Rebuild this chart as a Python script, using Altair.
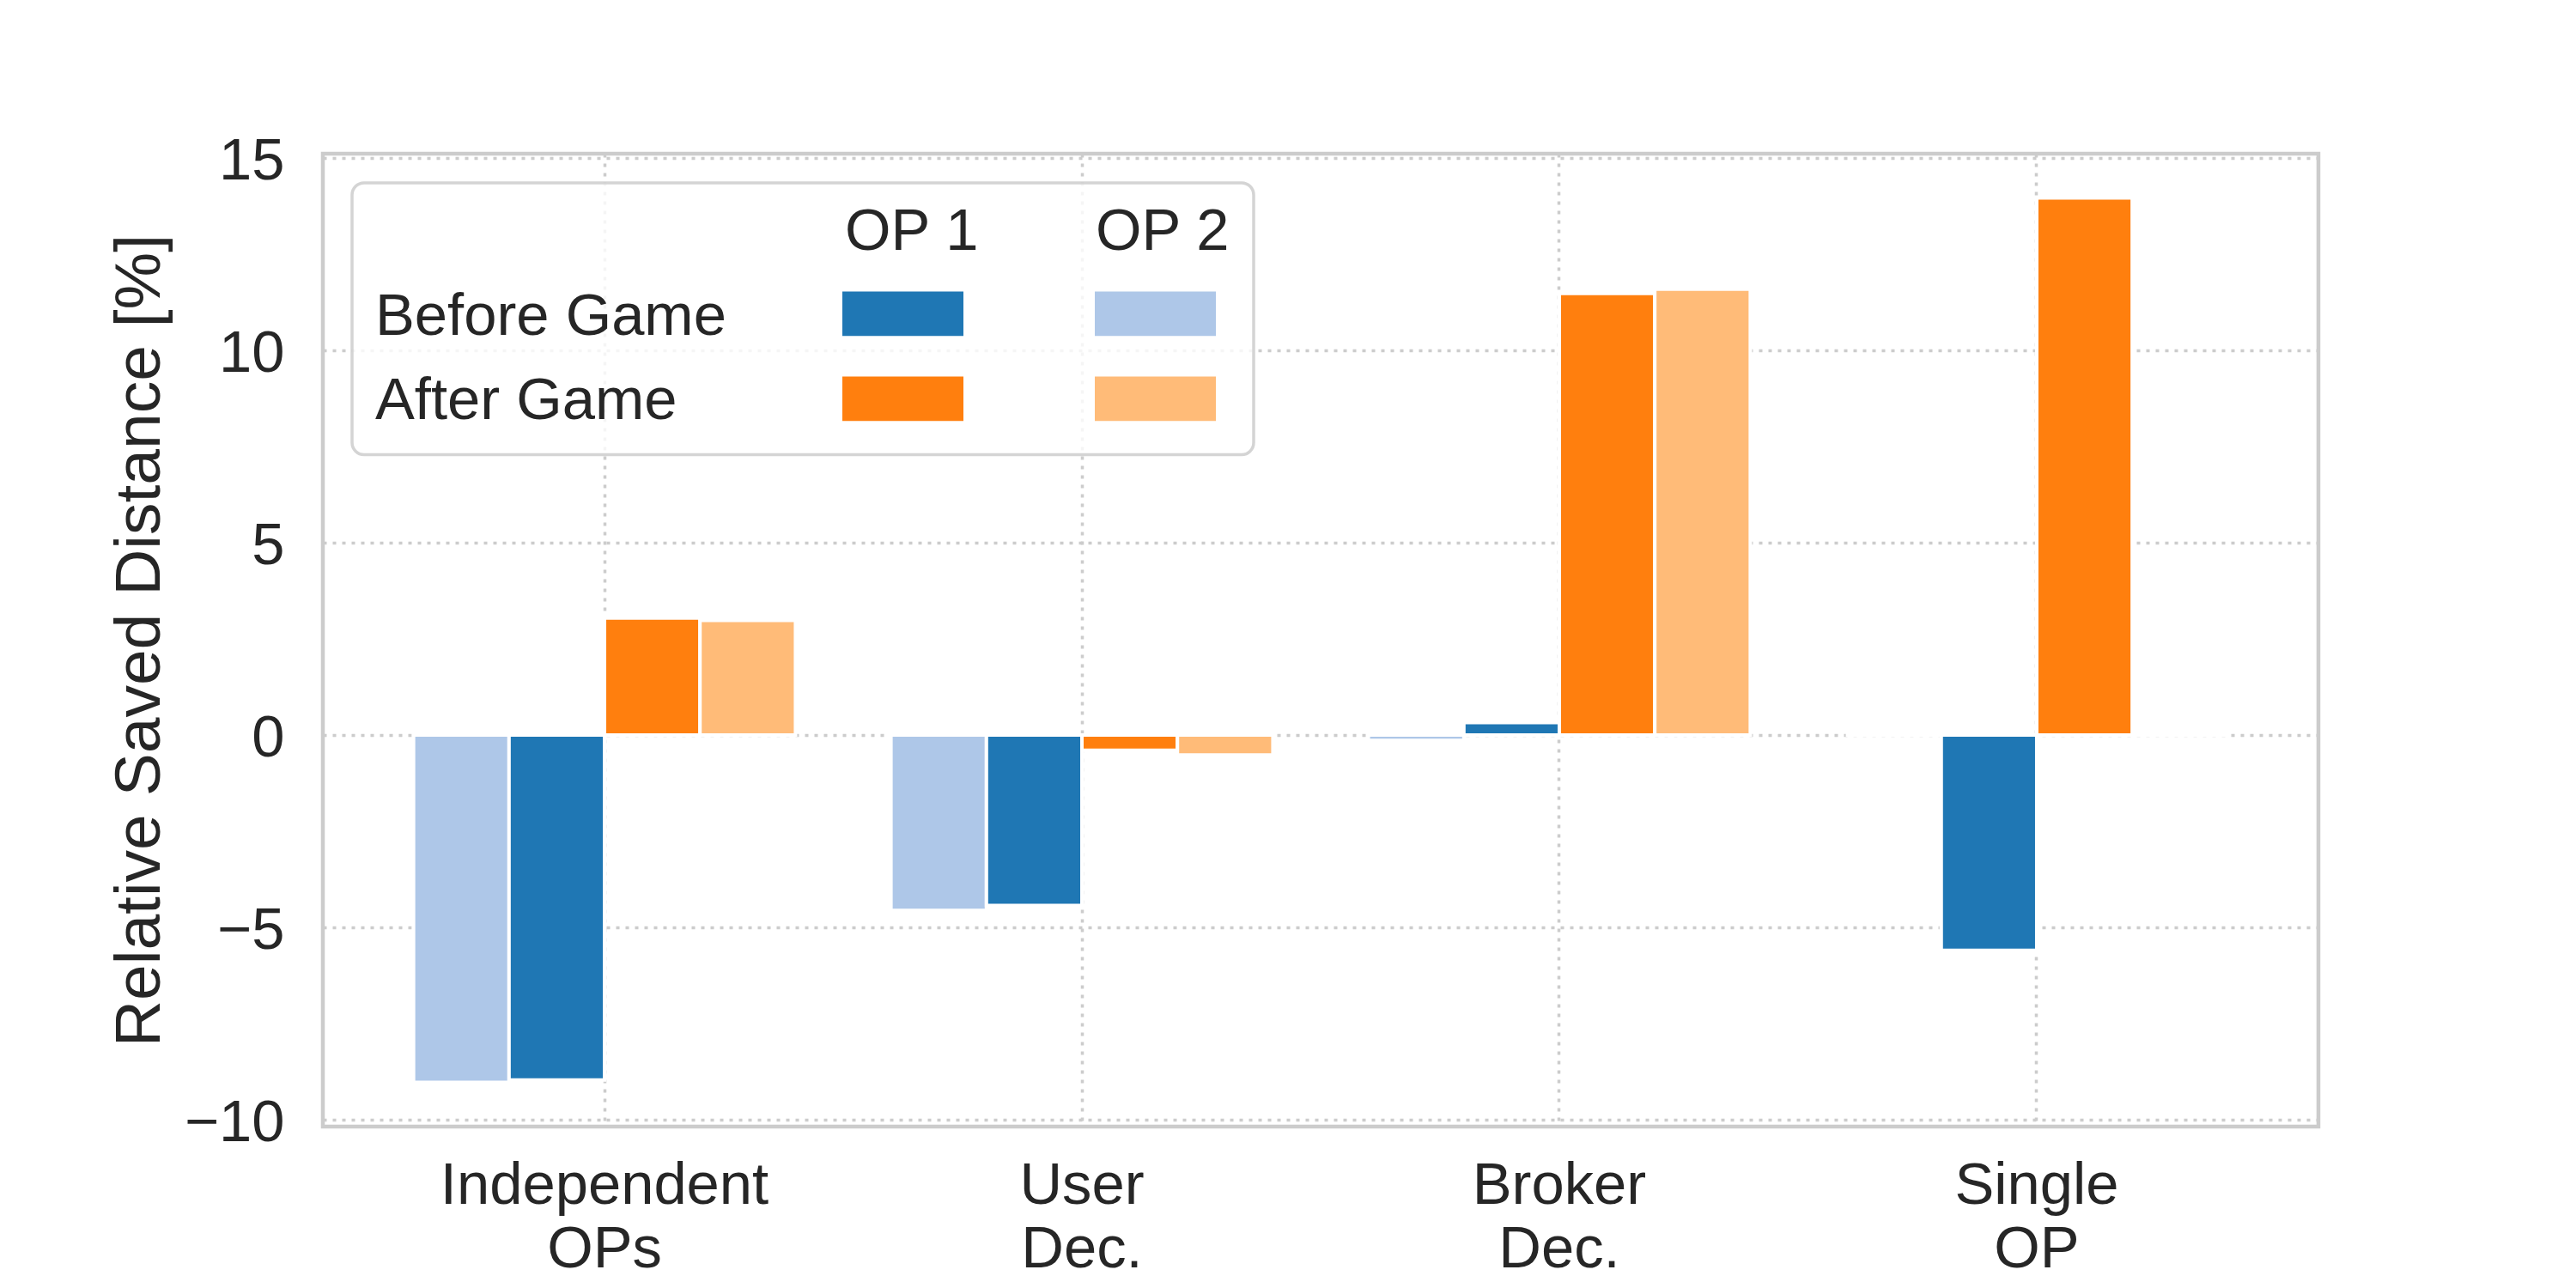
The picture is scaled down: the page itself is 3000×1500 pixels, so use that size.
import altair as alt
import pandas as pd

# ---------------- data ----------------
categories = ["Independent\nOPs", "User\nDec.", "Broker\nDec.", "Single\nOP"]
# order of the bars inside each group (left to right)
series_names = ["OP2 Before", "OP1 Before", "OP1 After", "OP2 After"]
series_colors = ["#aec7e8", "#1f77b4", "#ff7f0e", "#ffbb78"]

op1_before = [-8.97, -4.43, 0.32, -5.60]
op2_before = [-9.03, -4.56, -0.14, 0.0]
op1_after = [3.04, -0.40, 11.48, 13.96]
op2_after = [2.98, -0.52, 11.59, 0.0]

y_ticks = [-10, -5, 0, 5, 10, 15]
y_title = "Relative Saved Distance [%]"

legend_cols = ["OP 1", "OP 2"]
legend_rows = ["Before Game", "After Game"]

# ---------------- table ----------------
values_by_series = {
    "OP2 Before": op2_before,
    "OP1 Before": op1_before,
    "OP1 After": op1_after,
    "OP2 After": op2_after,
}
rows = []
for s in series_names:
    for c, v in zip(categories, values_by_series[s]):
        rows.append({"category": c, "series": s, "value": v})
df = pd.DataFrame(rows)

color_of = dict(zip(series_names, series_colors))

# ---------------- style / layout ----------------
FONT = "Liberation Sans"
TXT = "#262626"
GRID = "#cccccc"
W, H = 2324, 1133
TICK_FS = 68.75
TITLE_FS = 75

# legend layout (pixels inside the plot area)
box = dict(x=34, y=34, x2=1084, y2=350.6)
col_rect_x = [605, 899]
rect_w, rect_h = 141, 51.7
row_rect_y = [160.6, 259.6]
header_x = [608, 900]
header_baseline = 112
row_label_x = 61
row_baseline = [210.6, 309]

leg_rects = []
for ri, rname in enumerate(legend_rows):
    for ci, cname in enumerate(legend_cols):
        key = f"OP{ci + 1} {'Before' if ri == 0 else 'After'}"
        leg_rects.append({
            "x0": col_rect_x[ci], "x1": col_rect_x[ci] + rect_w,
            "y0": row_rect_y[ri], "y1": row_rect_y[ri] + rect_h,
            "color": color_of[key],
        })
leg_texts = []
for ci, cname in enumerate(legend_cols):
    leg_texts.append({"x": header_x[ci], "y": header_baseline, "text": cname})
for ri, rname in enumerate(legend_rows):
    leg_texts.append({"x": row_label_x, "y": row_baseline[ri], "text": rname})

# ---------------- chart ----------------
bars = alt.Chart(df).mark_bar(stroke="white", strokeWidth=4).encode(
    x=alt.X(
        "category:N",
        sort=categories,
        scale=alt.Scale(paddingInner=0.2, paddingOuter=0.19),
        axis=alt.Axis(
            title=None,
            labelExpr="split(datum.label, '\\n')",
            labelAngle=0,
            labelFontSize=TICK_FS,
            labelColor=TXT,
            labelPadding=35,
            labelLineHeight=74,
            labelLimit=0,
            ticks=False,
            tickSize=0,
            domain=False,
            grid=True,
        ),
    ),
    xOffset=alt.XOffset(
        "series:N", sort=series_names,
        scale=alt.Scale(paddingInner=0, paddingOuter=0),
    ),
    y=alt.Y(
        "value:Q",
        scale=alt.Scale(domain=[-10.18, 15.11], nice=False),
        axis=alt.Axis(
            values=y_ticks,
            title=y_title,
            labelFontSize=TICK_FS,
            labelColor=TXT,
            labelPadding=45,
            labelOffset=4,
            labelLimit=0,
            ticks=False,
            tickSize=0,
            domain=False,
            grid=True,
            titleFontSize=TITLE_FS,
            titleFontWeight="normal",
            titleColor=TXT,
            titleAngle=270,
            titleX=-191,
            titleY=H / 2,
            titleAlign="center",
            titleBaseline="alphabetic",
            titleLimit=0,
        ),
    ),
    y2=alt.datum(0),
    color=alt.Color(
        "series:N",
        scale=alt.Scale(domain=series_names, range=series_colors),
        legend=None,
    ),
)

legend_box = alt.Chart(alt.Data(values=[box])).mark_rect(
    fill="white", fillOpacity=0.8, stroke=GRID, strokeOpacity=0.85,
    strokeWidth=3.5, cornerRadius=14,
).encode(
    x=alt.X("x:Q", scale=None, axis=None),
    x2="x2:Q",
    y=alt.Y("y:Q", scale=None, axis=None),
    y2="y2:Q",
)

legend_swatches = alt.Chart(alt.Data(values=leg_rects)).mark_rect().encode(
    x=alt.X("x0:Q", scale=None, axis=None),
    x2="x1:Q",
    y=alt.Y("y0:Q", scale=None, axis=None),
    y2="y1:Q",
    fill=alt.Fill("color:N", scale=None, legend=None),
)

legend_labels = alt.Chart(alt.Data(values=leg_texts)).mark_text(
    align="left", baseline="alphabetic", fontSize=TICK_FS, color=TXT, font=FONT,
).encode(
    x=alt.X("x:Q", scale=None, axis=None),
    y=alt.Y("y:Q", scale=None, axis=None),
    text="text:N",
)

chart = alt.layer(bars, legend_box, legend_swatches, legend_labels).resolve_scale(
    x="independent", y="independent"
).properties(
    width=W,
    height=H,
    padding={"left": 368, "top": 171, "right": 270, "bottom": 179},
    autosize=alt.AutoSizeParams(type="none"),
).configure(
    font=FONT,
    background="white",
).configure_view(
    stroke=GRID,
    strokeWidth=4.5,
).configure_axis(
    gridColor=GRID,
    gridDash=[4, 7],
    gridWidth=3.5,
    labelFont=FONT,
    titleFont=FONT,
)

chart.save("out.html", embed_options={"renderer": "svg", "actions": False})
